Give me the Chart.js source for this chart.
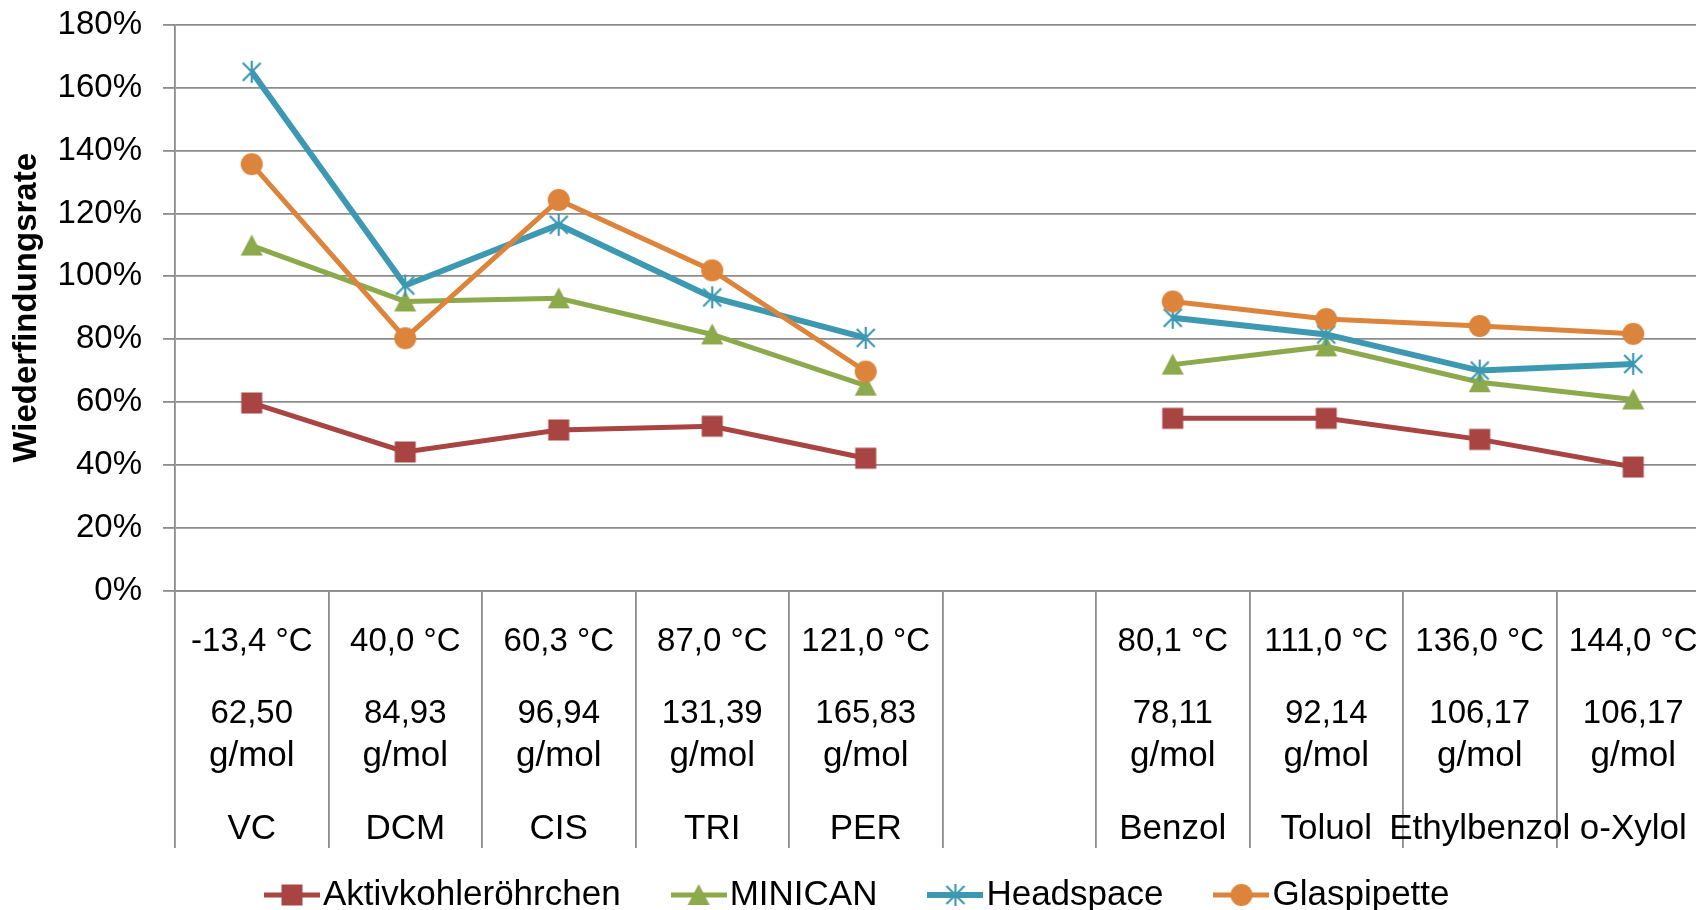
<!DOCTYPE html>
<html>
<head>
<meta charset="utf-8">
<script src="https://cdn.jsdelivr.net/npm/chart.js@4.4.1/dist/chart.umd.min.js"></script>
<style>
html,body{margin:0;padding:0;overflow:hidden;background:#ffffff;}
#wrap{width:1712px;height:910px;}
</style>
</head>
<body>
<div id="wrap"><canvas id="c" width="1712" height="910"></canvas></div>
<script>
// ---- data ----
const categories   = ['VC','DCM','CIS','TRI','PER','','Benzol','Toluol','Ethylbenzol','o-Xylol'];
const boilingPoints = ['-13,4 °C','40,0 °C','60,3 °C','87,0 °C','121,0 °C','','80,1 °C','111,0 °C','136,0 °C','144,0 °C'];
const molarMasses  = ['62,50','84,93','96,94','131,39','165,83','','78,11','92,14','106,17','106,17'];
const massUnit     = 'g/mol';
const seriesNames  = ['Aktivkohleröhrchen','MINICAN','Headspace','Glaspipette'];
const aktivkohle   = [59.7, 44.1, 51.1, 52.3, 42.1, null, 54.8, 54.8, 48.1, 39.3];
const minican      = [109.8, 92.0, 93.0, 81.5, 65.2, null, 71.9, 77.7, 66.3, 60.8];
const headspace    = [165.1, 97.1, 116.4, 93.3, 80.4, null, 86.8, 81.5, 70.0, 72.1];
const glaspipette  = [135.7, 80.3, 124.3, 101.9, 69.7, null, 92.0, 86.4, 84.2, 81.7];
const yMin = 0, yMax = 180, yStep = 20;
const yTitle = 'Wiederfindungsrate';

// ---- styles ----
const FONT = "'Liberation Sans',Arial,sans-serif";
const GRID = '#8c8c8c';
const colors = ['#a84543','#8ca94c','#3d98b1','#dc843c'];
const lineWidths = [5,5,6,5];
const kinds = ['square','triangle','asterisk','circle'];

function drawMarker(ctx, kind, color, cx, cy) {
  ctx.fillStyle = color; ctx.strokeStyle = color;
  if (kind === 'square') { ctx.fillRect(cx-10.5, cy-10.5, 21, 21); }
  else if (kind === 'circle') { ctx.beginPath(); ctx.arc(cx, cy, 11, 0, Math.PI*2); ctx.fill(); }
  else if (kind === 'triangle') { ctx.beginPath(); ctx.moveTo(cx, cy-11); ctx.lineTo(cx+11, cy+10); ctx.lineTo(cx-11, cy+10); ctx.closePath(); ctx.fill(); }
  else if (kind === 'asterisk') {
    ctx.lineWidth = 2.2; ctx.beginPath();
    ctx.moveTo(cx-9, cy-9); ctx.lineTo(cx+9, cy+9);
    ctx.moveTo(cx+9, cy-9); ctx.lineTo(cx-9, cy+9);
    ctx.moveTo(cx, cy-11); ctx.lineTo(cx, cy+11);
    ctx.stroke();
  }
}
function markerImage(i) {
  const c = document.createElement('canvas'); c.width = 26; c.height = 26;
  drawMarker(c.getContext('2d'), kinds[i], colors[i], 13, 13);
  return c;
}
function legendImage(i) {
  const c = document.createElement('canvas'); c.width = 56; c.height = 26;
  const g = c.getContext('2d');
  g.fillStyle = colors[i]; g.fillRect(0, 13 - lineWidths[i]/2, 56, lineWidths[i]);
  drawMarker(g, kinds[i], colors[i], 28, 13);
  return c;
}
const markerImgs = [0,1,2,3].map(markerImage);
const legendImgs = [0,1,2,3].map(legendImage);

const seriesData = [aktivkohle, minican, headspace, glaspipette];
const datasets = seriesData.map((d, i) => ({
  label: seriesNames[i],
  data: d,
  borderColor: colors[i],
  backgroundColor: colors[i],
  borderWidth: lineWidths[i],
  pointStyle: markerImgs[i],
  pointRadius: 11,
  tension: 0,
  spanGaps: false,
  order: 3 - i
}));

const xLabelPlugin = {
  id: 'xLabels',
  afterLayout(chart) {
    if (chart.legend) { chart.legend.left += 9; chart.legend.right += 9; }
  },
  afterDraw(chart) {
    const ctx = chart.ctx, x = chart.scales.x, top = chart.chartArea.bottom;
    ctx.save();
    ctx.fillStyle = '#000'; ctx.textAlign = 'center'; ctx.textBaseline = 'alphabetic';
    categories.forEach((name, i) => {
      const px = x.getPixelForValue(i);
      ctx.font = '33px ' + FONT;
      ctx.fillText(boilingPoints[i], px, top + 60);
      ctx.fillText(molarMasses[i], px, top + 132);
      ctx.font = '35px ' + FONT;
      if (molarMasses[i]) ctx.fillText(massUnit, px, top + 175.5);
      ctx.fillText(name, px, top + 248.5);
    });
    ctx.restore();
  }
};

new Chart(document.getElementById('c'), {
  type: 'line',
  data: { labels: categories, datasets },
  plugins: [xLabelPlugin],
  options: {
    responsive: false,
    animation: false,
    events: [],
    layout: { autoPadding: false, padding: { left: 0, right: 2, top: 25, bottom: -12.5 } },
    scales: {
      x: {
        type: 'category',
        offset: true,
        ticks: { display: false },
        grid: { offset: true, drawOnChartArea: false, drawTicks: true, tickLength: 257.5, color: GRID, lineWidth: 1.8 },
        border: { display: true, color: GRID, width: 1.8 },
        afterFit(s) { s.height = 222.5; }
      },
      y: {
        min: yMin, max: yMax,
        ticks: { stepSize: yStep, callback: v => v + '%', color: '#000', font: { family: FONT, size: 33 }, padding: 21 },
        grid: { color: GRID, lineWidth: 1.8, tickLength: 12, drawTicks: true },
        border: { display: true, color: GRID, width: 1.8 },
        title: { display: true, text: yTitle, color: '#000', font: { family: FONT, size: 33, weight: 'bold' }, padding: { top: 7, bottom: 0 } },
        afterFit(s) { s.width = 175; s.paddingTop = 0; s.paddingBottom = 0; }
      }
    },
    plugins: {
      tooltip: { enabled: false },
      legend: {
        position: 'bottom',
        labels: {
          usePointStyle: true,
          pointStyleWidth: 27,
          padding: 64.5,
          color: '#000',
          font: { family: FONT, size: 35 },
          sort: (a, b) => a.datasetIndex - b.datasetIndex,
          generateLabels(chart) {
            const items = Chart.defaults.plugins.legend.labels.generateLabels(chart);
            items.forEach(it => { it.pointStyle = legendImgs[it.datasetIndex]; });
            return items;
          }
        }
      }
    }
  }
});
</script>
</body>
</html>
